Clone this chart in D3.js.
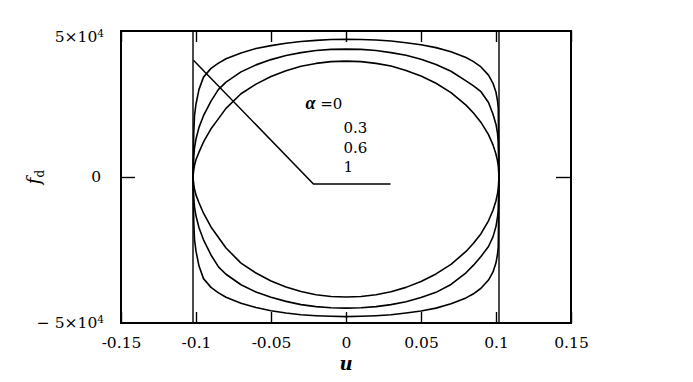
<!DOCTYPE html>
<html>
<head>
<meta charset="utf-8">
<script src="https://cdn.jsdelivr.net/npm/d3@7"></script>
<style>
  body { margin: 0; background: #fff; }
  text { font-family: "DejaVu Serif", "Liberation Serif", serif; fill: #000; }
</style>
</head>
<body>
<div id="chart"></div>
<script>
// displacement u, shared by all loops
var uGrid = [-0.102, -0.1015, -0.101, -0.1, -0.098, -0.095, -0.09, -0.085, -0.08, -0.07, -0.06, -0.05, -0.04, -0.03, -0.02, -0.01, 0,
  0.01, 0.02, 0.03, 0.04, 0.05, 0.06, 0.07, 0.08, 0.085, 0.09, 0.095, 0.098, 0.1, 0.101, 0.1015, 0.102];

// f_d in units of 10^4, upper and lower branch of each loop
var fdUpper03 = [0, 1.5, 2.1, 2.5, 3.0, 3.42, 3.72, 3.9, 4.05, 4.25, 4.4, 4.5, 4.58, 4.64, 4.68, 4.71, 4.72,
  4.71, 4.69, 4.66, 4.60, 4.53, 4.43, 4.29, 4.09, 3.95, 3.77, 3.49, 3.21, 2.90, 2.61, 2.36, 0];
var fdLower03 = [0, -1.53, -2.14, -2.54, -3.05, -3.48, -3.78, -3.97, -4.12, -4.32, -4.47, -4.58, -4.66, -4.72, -4.75, -4.77, -4.78,
  -4.77, -4.75, -4.72, -4.66, -4.59, -4.49, -4.34, -4.14, -4.00, -3.81, -3.53, -3.25, -2.94, -2.64, -2.39, 0];
var fdUpper06 = [0, 0.7, 1.0, 1.3, 1.7, 2.1, 2.6, 3.0, 3.25, 3.6, 3.84, 4.02, 4.16, 4.26, 4.33, 4.37, 4.38,
  4.37, 4.33, 4.26, 4.17, 4.03, 3.85, 3.62, 3.29, 3.12, 2.92, 2.55, 2.15, 1.8, 1.5, 1.2, 0];
var fdLower06 = [0, -0.72, -1.03, -1.33, -1.74, -2.15, -2.67, -3.08, -3.33, -3.69, -3.94, -4.12, -4.26, -4.37, -4.44, -4.48, -4.49,
  -4.48, -4.44, -4.37, -4.27, -4.13, -3.95, -3.68, -3.28, -3.02, -2.72, -2.38, -2.05, -1.69, -1.37, -1.13, 0];
var fdUpper1 = [0, 0.25, 0.4, 0.6, 0.85, 1.2, 1.65, 2.0, 2.35, 2.85, 3.18, 3.44, 3.64, 3.79, 3.89, 3.95, 3.97,
  3.95, 3.89, 3.80, 3.65, 3.46, 3.21, 2.89, 2.46, 2.19, 1.87, 1.45, 1.10, 0.78, 0.55, 0.39, 0];
var fdLower1 = [0, -0.26, -0.41, -0.62, -0.88, -1.24, -1.71, -2.07, -2.43, -2.95, -3.29, -3.56, -3.77, -3.92, -4.03, -4.09, -4.11,
  -4.09, -4.03, -3.93, -3.78, -3.58, -3.32, -2.99, -2.55, -2.27, -1.94, -1.50, -1.14, -0.81, -0.57, -0.40, 0];

// alpha = 0 loop is a rectangle
var rectU = [-0.102, -0.102, 0.102, 0.102];
var rectFd = [-5, 5, 5, -5];

var alphaLabels = ["0", "0.3", "0.6", "1"];

var xTicks = [-0.15, -0.1, -0.05, 0, 0.05, 0.1, 0.15];
var yTicks = [-5, 0, 5];
var yTickBase = ["\u2212 5\u00d710", "0", "5\u00d710"];
var yTickExp = ["4", "", "4"];

// Build svg object
var svgWidth = 693;
var svgHeight = 382;
var margin = { top: 31, right: 122, bottom: 59, left: 121 };
var width = svgWidth - margin.left - margin.right;
var height = svgHeight - margin.top - margin.bottom;

var svg = d3.select("#chart")
  .append("svg")
  .attr("width", svgWidth)
  .attr("height", svgHeight);

var chartGroup = svg.append("g")
  .attr("transform", `translate(${margin.left}, ${margin.top})`);

var x = d3.scaleLinear().domain([-0.15, 0.15]).range([0, width]);
var y = d3.scaleLinear().domain([-5, 5]).range([height, 0]);

// axes with inward ticks
function styleAxis(g) {
  g.select(".domain").remove();
  g.selectAll(".tick line").attr("stroke", "#000").attr("stroke-width", 1.4);
}

chartGroup.append("g")
  .attr("transform", `translate(0, ${height})`)
  .call(d3.axisBottom(x).tickValues(xTicks).tickSizeInner(-11).tickSizeOuter(0)
    .tickPadding(14).tickFormat(d => String(d)))
  .call(styleAxis)
  .selectAll("text")
  .attr("font-size", 15.5)
  .attr("font-family", "DejaVu Serif");

chartGroup.append("g")
  .call(d3.axisTop(x).tickValues(xTicks).tickSizeInner(-11).tickSizeOuter(0).tickFormat(""))
  .call(styleAxis);

chartGroup.append("g")
  .call(d3.axisLeft(y).tickValues([0]).tickSizeInner(-14).tickSizeOuter(0).tickFormat(""))
  .call(styleAxis);

chartGroup.append("g")
  .attr("transform", `translate(${width}, 0)`)
  .call(d3.axisRight(y).tickValues([0]).tickSizeInner(-15).tickSizeOuter(0).tickFormat(""))
  .call(styleAxis);

// y tick labels with superscript
yTicks.forEach(function (v, i) {
  var t = chartGroup.append("text")
    .attr("x", v === 0 ? -20 : -17)
    .attr("y", y(v) + (v > 0 ? 6 : 0))
    .attr("dy", "0.35em")
    .attr("text-anchor", "end")
    .attr("font-size", 15.5);
  t.append("tspan").text(yTickBase[i]);
  if (yTickExp[i]) {
    t.append("tspan").attr("dy", "-0.55em").attr("font-size", 10.5).text(yTickExp[i]);
  }
});

// frame
chartGroup.append("rect")
  .attr("width", width)
  .attr("height", height)
  .attr("fill", "none")
  .attr("stroke", "#000")
  .attr("stroke-width", 2);

// loops
var line = d3.line().x(d => x(d[0])).y(d => y(d[1]));

function loop(upper, lower) {
  var top = uGrid.map((u, i) => [u, upper[i]]);
  var bottom = uGrid.map((u, i) => [u, lower[i]]).reverse();
  return line(top.concat(bottom)) + "Z";
}

chartGroup.append("path")
  .attr("d", line(rectU.map((u, i) => [u, rectFd[i]])) + "Z")
  .attr("fill", "none")
  .attr("stroke", "#000")
  .attr("stroke-width", 1.4);

[[fdUpper03, fdLower03], [fdUpper06, fdLower06], [fdUpper1, fdLower1]].forEach(function (b) {
  chartGroup.append("path")
    .attr("d", loop(b[0], b[1]))
    .attr("fill", "none")
    .attr("stroke", "#000")
    .attr("stroke-width", 1.6)
    .attr("stroke-linejoin", "round");
});

// legend with leader line
var leader = [[-0.1017, 4.0], [-0.0217, -0.24], [0.0297, -0.24]];
chartGroup.append("path")
  .attr("d", line(leader))
  .attr("fill", "none")
  .attr("stroke", "#000")
  .attr("stroke-width", 1.5);

var legendRows = [2.5, 1.68, 0.99, 0.34];
alphaLabels.forEach(function (lab, i) {
  var t = chartGroup.append("text")
    .attr("y", y(legendRows[i]))
    .attr("dy", "0.35em")
    .attr("font-size", 15);
  if (i === 0) {
    t.attr("x", x(-0.027));
    t.append("tspan").attr("font-weight", "bold").attr("font-style", "italic")
      .attr("font-size", 18).attr("font-family", "Liberation Serif").text("\u03b1");
    t.append("tspan").text(" =" + lab);
  } else {
    t.attr("x", x(-0.0017)).text(lab);
  }
});

// axis titles
chartGroup.append("text")
  .attr("x", x(0))
  .attr("y", height + 47)
  .attr("text-anchor", "middle")
  .attr("font-size", 18)
  .attr("font-family", "Liberation Serif")
  .attr("font-weight", "bold")
  .attr("font-style", "italic")
  .text("u");

var yTitle = chartGroup.append("text")
  .attr("transform", `translate(${-81}, ${y(0)}) rotate(-90)`)
  .attr("text-anchor", "middle")
  .attr("font-family", "Liberation Serif")
  .attr("font-size", 18);
yTitle.append("tspan").attr("font-style", "italic").text("f");
yTitle.append("tspan").attr("dy", "0.3em").attr("font-size", 12).text("d");
</script>
</body>
</html>
